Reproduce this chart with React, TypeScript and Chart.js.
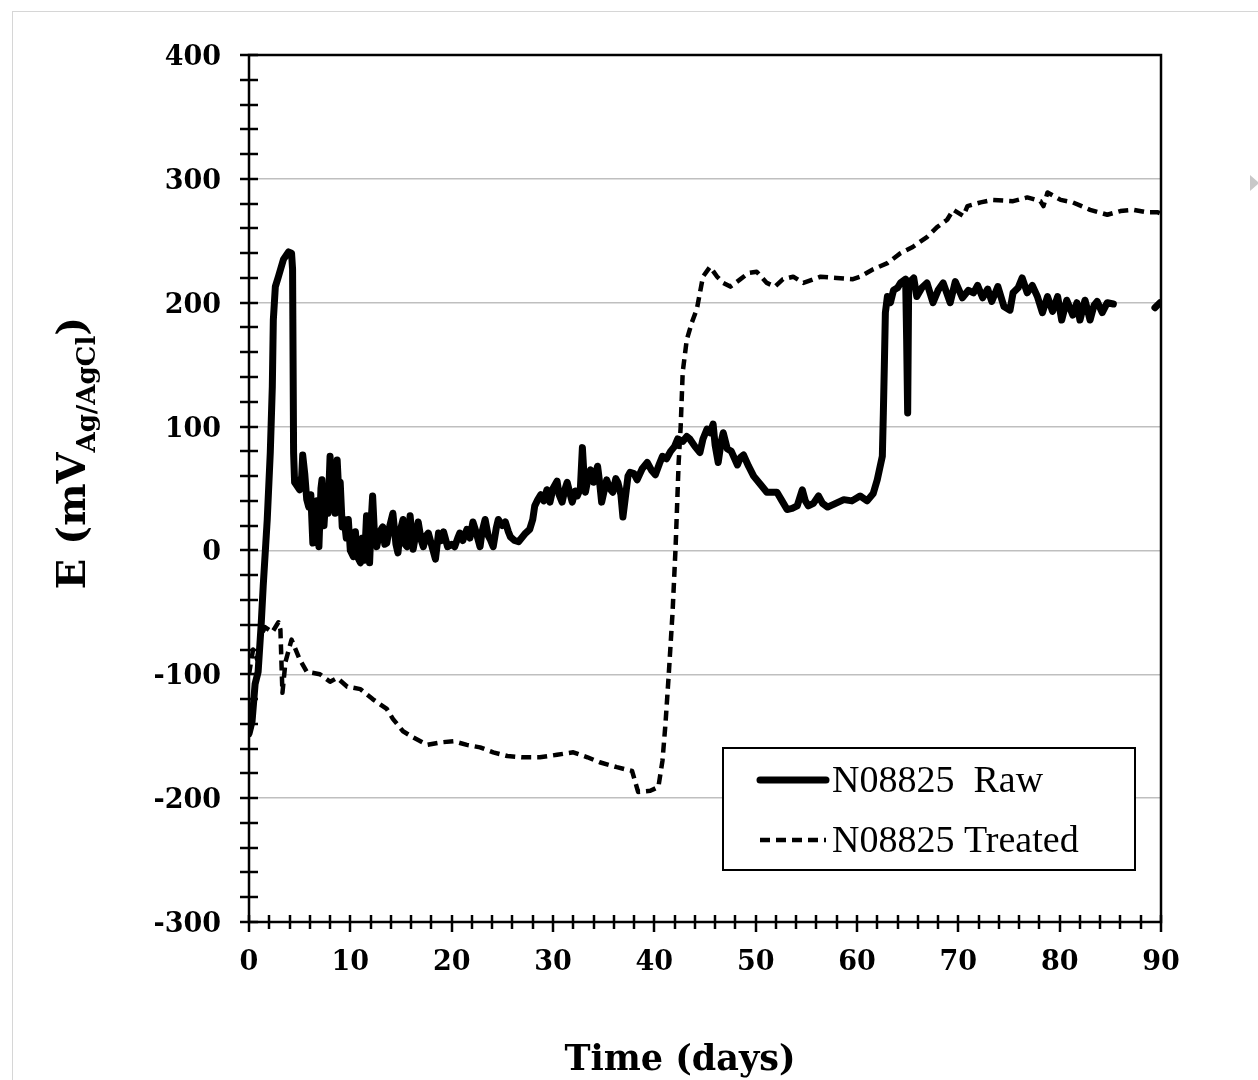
import React, { useEffect, useRef } from "react";
import { Chart, registerables } from "chart.js";

Chart.register(...registerables);

// ---- data ----
const rawDays: number[] = [
  0.0, 0.3, 0.6, 0.9, 1.2, 1.4, 1.8, 2.1, 2.3, 2.4, 2.6, 2.9, 3.4, 3.9, 4.2, 4.3, 4.4, 4.5, 5.0, 5.2,
  5.3, 5.5, 5.7, 5.9, 6.1, 6.3, 6.5, 6.7, 6.9, 7.1, 7.2, 7.4, 7.6, 7.8, 8.0, 8.2, 8.3, 8.5, 8.7, 8.9,
  9.0, 9.2, 9.4, 9.6, 9.8, 10.0, 10.3, 10.5, 10.7, 11.0, 11.2, 11.4, 11.6, 11.8, 11.9, 12.1, 12.2, 12.4, 12.6, 12.9,
  13.2, 13.4, 13.6, 13.9, 14.2, 14.5, 14.7, 14.9, 15.2, 15.4, 15.6, 15.9, 16.1, 16.2, 16.5, 16.7, 17.0, 17.2, 17.5, 17.7,
  18.0, 18.4, 18.7, 19.0, 19.2, 19.6, 20.0, 20.3, 20.6, 20.8, 21.1, 21.5, 21.8, 22.1, 22.4, 22.8, 23.0, 23.3, 23.6, 23.8,
  24.1, 24.4, 24.6, 25.0, 25.3, 25.6, 25.8, 26.2, 26.6, 27.0, 27.3, 27.7, 28.0, 28.2, 28.5, 28.8, 29.1, 29.4, 29.7, 30.0,
  30.4, 30.6, 30.9, 31.2, 31.4, 31.7, 31.9, 32.2, 32.4, 32.7, 32.9, 33.1, 33.2, 33.5, 33.7, 34.0, 34.4, 34.6, 34.8, 35.1,
  35.3, 35.6, 35.9, 36.2, 36.4, 36.7, 36.9, 37.1, 37.4, 37.6, 38.0, 38.3, 38.8, 39.3, 39.7, 40.1, 40.5, 40.8, 41.2, 41.6,
  42.0, 42.3, 42.8, 43.2, 43.5, 44.0, 44.5, 44.8, 45.2, 45.5, 45.8, 46.0, 46.3, 46.6, 46.8, 47.2, 47.6, 48.2, 48.5, 48.8,
  49.3, 49.8, 50.5, 51.1, 51.6, 52.1, 52.6, 53.1, 53.6, 54.1, 54.6, 54.9, 55.2, 55.7, 56.2, 56.6, 57.1, 57.9, 58.7, 59.5,
  60.3, 61.0, 61.6, 62.0, 62.5, 62.6, 62.7, 62.8, 63.0, 63.3, 63.6, 64.0, 64.3, 64.8, 64.9, 65.0, 65.1, 65.6, 65.9, 66.4,
  66.9, 67.5, 68.0, 68.5, 69.2, 69.7, 70.4, 71.0, 71.5, 71.9, 72.4, 72.9, 73.3, 73.9, 74.5, 75.1, 75.4, 75.9, 76.3, 76.8,
  77.3, 77.8, 78.3, 78.8, 79.3, 79.8, 80.2, 80.7, 81.3, 81.7, 82.0, 82.5, 83.0, 83.4, 83.7, 84.2, 84.7, 85.3, 87.0, 89.4,
  89.9,
];
const rawE: (number | null)[] = [
  -148, -138, -108, -98, -60, -29, 25, 79, 132, 186, 213, 221, 235, 241, 240, 227, 79, 55, 49, 60,
  77, 62, 41, 35, 45, 6, 30, 40, 3, 50, 57, 20, 47, 30, 76, 40, 63, 30, 73, 40,
  55, 19, 25, 10, 25, 0, -5, 15, -5, -10, 10, -8, 28, 5, -10, 30, 44, 10, 3, 15,
  19, 5, 6, 20, 30, 5, -2, 15, 25, 5, 3, 28, 10, 1, 15, 23, 8, 3, 12, 14,
  5, -7, 14, 8, 15, 3, 5, 3, 10, 14, 8, 17, 10, 23, 15, 3, 15, 25, 12, 9,
  3, 18, 25, 20, 23, 15, 11, 8, 7, 11, 14, 17, 25, 36, 41, 45, 40, 49, 39, 50,
  56, 45, 39, 50, 55, 45, 39, 48, 44, 50, 83, 55, 47, 60, 65, 55, 68, 55, 39, 50,
  57, 50, 47, 58, 55, 45, 27, 40, 60, 63, 62, 57, 66, 71, 65, 61, 70, 76, 74, 80,
  84, 90, 88, 92, 90, 84, 79, 90, 98, 95, 102, 85, 71, 88, 95, 82, 80, 69, 75, 77,
  68, 60, 53, 47, 47, 47, 40, 33, 34, 36, 49, 40, 36, 38, 44, 38, 35, 38, 41, 40,
  44, 40, 46, 57, 76, 111, 150, 192, 205, 200, 210, 212, 216, 219, 170, 111, 216, 220, 205, 212,
  216, 200, 210, 216, 200, 217, 204, 210, 208, 214, 204, 211, 201, 213, 197, 194, 208, 212, 220, 208,
  214, 205, 192, 205, 193, 205, 186, 202, 190, 200, 186, 202, 186, 198, 201, 192, 200, 199, null, 196,
  200,
];

const treatedDays: number[] = [
  0.0, 0.4, 0.8, 1.2, 1.6, 2.3, 2.9, 3.1, 3.3, 3.6, 4.2, 5.0, 5.7, 7.0, 8.0, 8.7, 9.7, 11.0, 12.2, 13.6,
  14.2, 15.2, 16.2, 17.6, 18.9, 20.2, 21.5, 22.8, 24.1, 25.5, 27.0, 28.7, 30.4, 32.0, 33.4, 34.6, 36.3, 37.8, 38.4, 39.6,
  40.4, 40.8, 41.1, 41.4, 41.8, 42.1, 42.4, 42.6, 42.8, 43.2, 43.7, 44.2, 44.5, 44.8, 45.5, 46.2, 46.8, 47.5, 48.5, 49.3,
  50.1, 51.1, 51.9, 52.7, 53.7, 54.7, 56.4, 58.0, 59.6, 60.3, 61.6, 63.0, 64.3, 65.5, 66.9, 67.9, 68.9, 69.5, 70.5, 70.9,
  72.2, 73.4, 75.4, 76.8, 78.1, 78.4, 78.8, 80.1, 81.3, 83.0, 84.7, 86.0, 87.3, 88.6, 89.7, 90.0,
];
const treatedE: number[] = [
  -100, -80, -88, -68, -62, -66, -58, -64, -115, -90, -72, -88, -98, -100, -106, -103, -110, -112, -120, -128,
  -136, -146, -151, -157, -155, -154, -157, -159, -163, -166, -167, -167, -165, -163, -167, -171, -175, -178, -195, -194,
  -191, -170, -140, -103, -50, 3, 71, 100, 144, 170, 184, 195, 208, 221, 229, 221, 216, 213, 219, 224,
  225, 216, 213, 219, 221, 216, 221, 220, 219, 221, 227, 232, 240, 245, 253, 261, 267, 275, 270, 278,
  281, 283, 282, 285, 282, 278, 289, 283, 281, 275, 271, 274, 275, 273, 273, 272,
];

const seriesLabels = ["N08825  Raw", "N08825 Treated"];
const xTickLabels = [0, 10, 20, 30, 40, 50, 60, 70, 80, 90];
const yTickLabels = [-300, -200, -100, 0, 100, 200, 300, 400];

const W = 1258;
const H = 1080;

const decorPlugin = {
  id: "decor",
  afterDraw(chart: any) {
    const ctx = chart.ctx as CanvasRenderingContext2D;
    const { left, right, top, bottom } = chart.chartArea;
    const xs = chart.scales.x;
    const ys = chart.scales.y;
    ctx.save();
    // frame
    ctx.strokeStyle = "#000";
    ctx.lineWidth = 2.5;
    ctx.strokeRect(left, top, right - left, bottom - top);
    // y ticks (cross axis)
    ctx.lineWidth = 2.5;
    for (let v = ys.min; v <= ys.max + 0.001; v += 20) {
      const y = Math.round(ys.getPixelForValue(v));
      ctx.beginPath();
      ctx.moveTo(left - 9, y);
      ctx.lineTo(left + 9, y);
      ctx.stroke();
    }
    // x ticks (cross axis)
    for (let v = xs.min; v <= xs.max + 0.001; v += 2) {
      const x = Math.round(xs.getPixelForValue(v));
      const major = Math.abs(v % 10) < 0.001;
      ctx.beginPath();
      ctx.moveTo(x, bottom - 7);
      ctx.lineTo(x, bottom + (major ? 10 : 7));
      ctx.stroke();
    }

    // legend box
    const lx = 723, ly = 748, lw = 412, lh = 122;
    ctx.fillStyle = "#fff";
    ctx.fillRect(lx, ly, lw, lh);
    ctx.lineWidth = 2;
    ctx.strokeStyle = "#000";
    ctx.strokeRect(lx, ly, lw, lh);
    const ds = chart.data.datasets;
    const rows = [780, 840];
    ds.forEach((d: any, i: number) => {
      const yy = rows[i];
      ctx.beginPath();
      ctx.lineWidth = d.borderWidth;
      ctx.lineCap = i === 0 ? "round" : "butt";
      ctx.setLineDash(d.borderDash || []);
      ctx.moveTo(760, yy);
      ctx.lineTo(826, yy);
      ctx.stroke();
      ctx.setLineDash([]);
      ctx.fillStyle = "#000";
      ctx.font = "38px 'Liberation Serif'";
      ctx.textAlign = "left";
      ctx.textBaseline = "alphabetic";
      ctx.fillText(d.label, 832, yy + 12);
    });

    // x title
    ctx.fillStyle = "#000";
    ctx.font = "bold 35px 'DejaVu Serif'";
    ctx.textAlign = "center";
    ctx.textBaseline = "alphabetic";
    ctx.fillText("Time (days)", 680, 1070);

    // y title with subscript
    ctx.translate(85, 453);
    ctx.rotate(-Math.PI / 2);
    const mainFont = "bold 40px 'DejaVu Serif'";
    const subFont = "bold 26px 'DejaVu Serif'";
    const parts: [string, string, number][] = [
      ["E (mV", mainFont, 0],
      ["Ag/AgCl", subFont, 10],
      [")", mainFont, 0],
    ];
    let total = 0;
    parts.forEach(([t, f]) => {
      ctx.font = f;
      total += ctx.measureText(t).width;
    });
    let cx = -total / 2;
    ctx.textAlign = "left";
    parts.forEach(([t, f, dy]) => {
      ctx.font = f;
      ctx.fillText(t, cx, dy);
      cx += ctx.measureText(t).width;
    });
    ctx.restore();
  },
};

export default function App() {
  const ref = useRef<HTMLCanvasElement | null>(null);
  useEffect(() => {
    if (!ref.current) return;
    const rawData = rawDays.map((d, i) => ({ x: d, y: rawE[i] }));
    const trData = treatedDays.map((d, i) => ({ x: d, y: treatedE[i] }));
    const chart = new Chart(ref.current, {
      type: "line",
      data: {
        datasets: [
          {
            label: seriesLabels[0],
            data: rawData as any,
            borderColor: "#000",
            borderWidth: 7,
            pointRadius: 0,
            tension: 0,
            spanGaps: false,
            borderJoinStyle: "round",
            borderCapStyle: "round",
          },
          {
            label: seriesLabels[1],
            data: trData as any,
            borderColor: "#000",
            borderWidth: 4.5,
            borderDash: [10, 6],
            pointRadius: 0,
            tension: 0,
            borderJoinStyle: "round",
          },
        ],
      },
      options: {
        responsive: false,
        animation: false,
        events: [],
        layout: { padding: { left: 0, top: 55, right: 97, bottom: 0 } },
        plugins: { legend: { display: false }, tooltip: { enabled: false } },
        scales: {
          x: {
            type: "linear",
            min: 0,
            max: 90,
            afterFit: (s: any) => {
              s.height = 158;
            },
            afterBuildTicks: (s: any) => {
              s.ticks = xTickLabels.map((v) => ({ value: v }));
            },
            grid: { display: false, drawTicks: false },
            border: { display: false },
            ticks: {
              padding: 25,
              color: "#000",
              font: { family: "'DejaVu Serif'", size: 27, weight: "bold" },
              maxRotation: 0,
            },
          },
          y: {
            type: "linear",
            min: -300,
            max: 400,
            afterFit: (s: any) => {
              s.width = 249;
            },
            afterBuildTicks: (s: any) => {
              s.ticks = yTickLabels.map((v) => ({ value: v }));
            },
            grid: {
              drawTicks: false,
              color: (c: any) =>
                c.tick && (c.tick.value === 400 || c.tick.value === -300) ? "rgba(0,0,0,0)" : "#bfbfbf",
              lineWidth: 1.5,
            },
            border: { display: false },
            ticks: {
              padding: 28,
              labelOffset: 3,
              color: "#000",
              font: { family: "'DejaVu Serif'", size: 27, weight: "bold" },
            },
          },
        },
      },
      plugins: [decorPlugin],
    });
    return () => chart.destroy();
  }, []);

  return (
    <div style={{ position: "absolute", left: 0, top: 0, width: W, height: H, overflow: "hidden", background: "#fff" }}>
      <div
        style={{
          position: "absolute",
          left: 12,
          top: 11,
          width: 1300,
          height: 1200,
          border: "1.5px solid #d6d6d6",
        }}
      />
      <div
        style={{
          position: "absolute",
          left: 1250,
          top: 175,
          width: 0,
          height: 0,
          borderTop: "8px solid transparent",
          borderBottom: "8px solid transparent",
          borderLeft: "9px solid #c8c8c8",
        }}
      />
      <canvas ref={ref} width={W} height={H} style={{ position: "absolute", left: 0, top: 0, display: "block" }} />
    </div>
  );
}
